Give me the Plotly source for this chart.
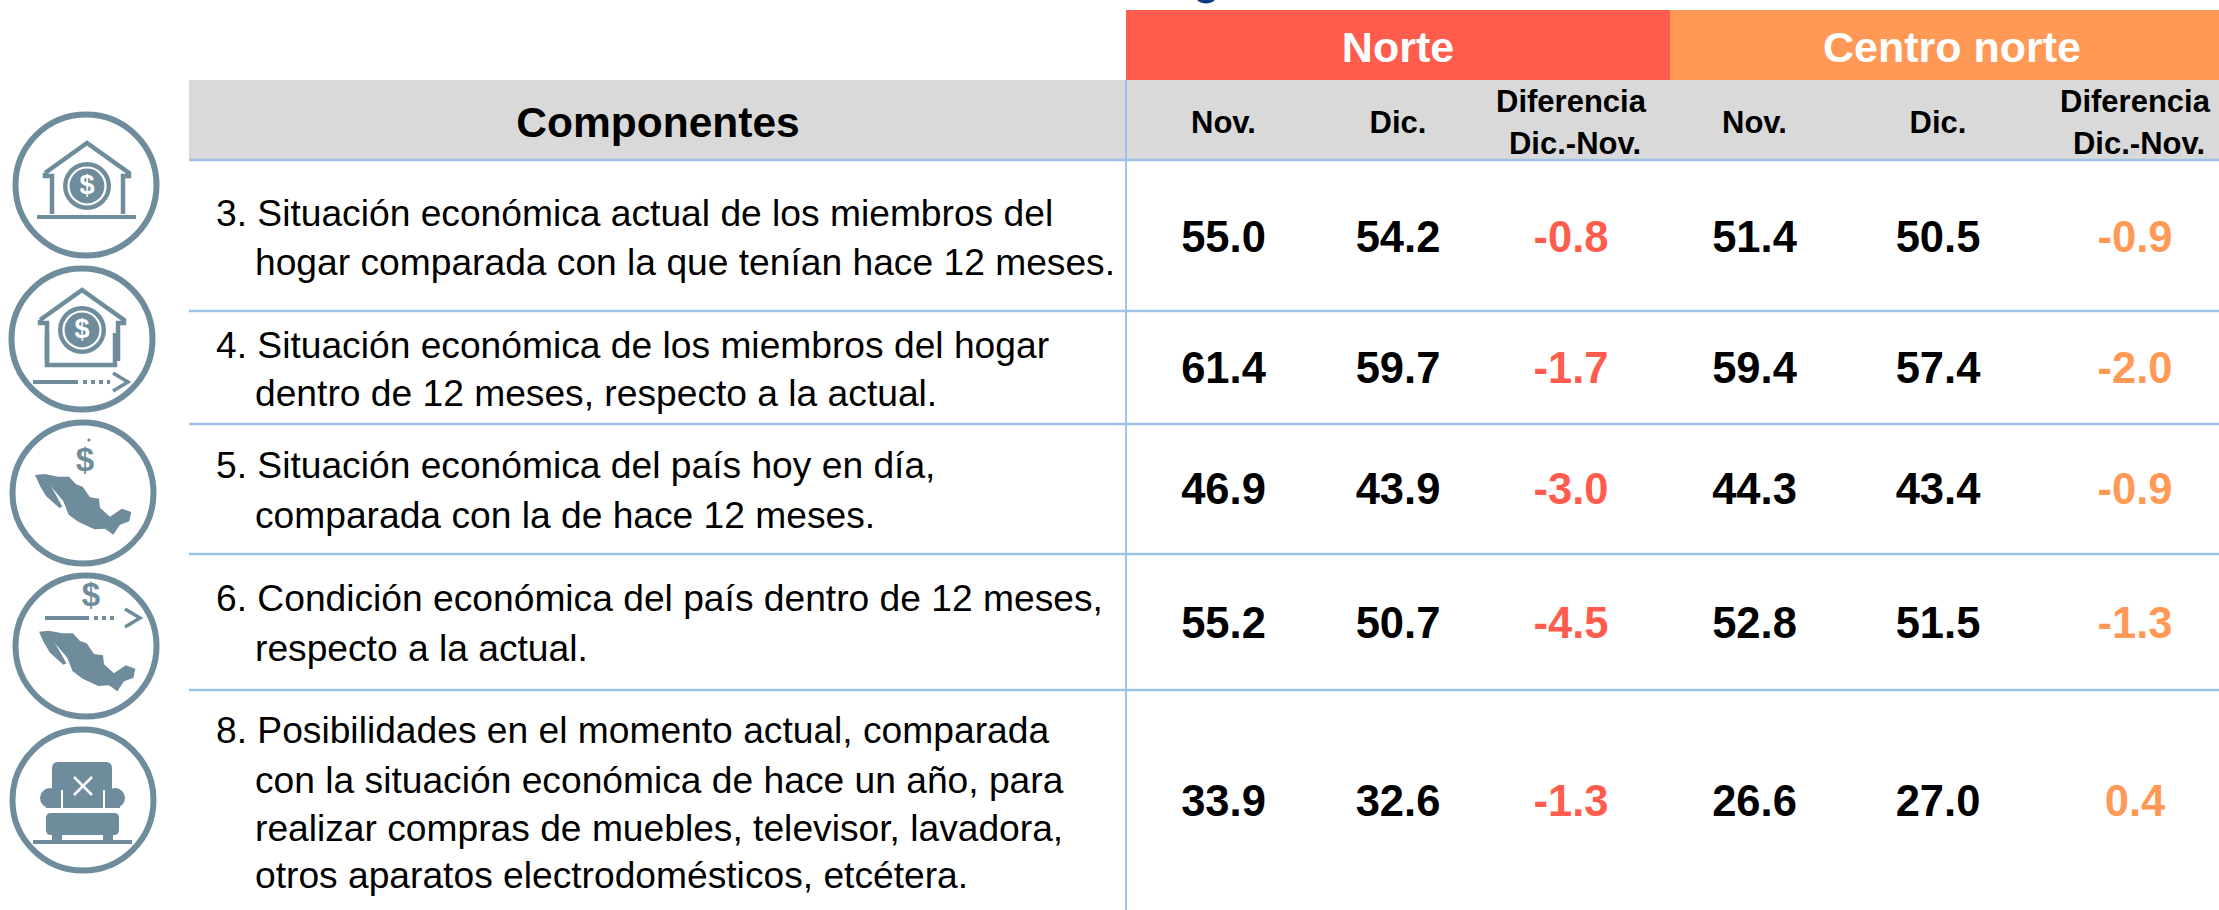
import plotly.graph_objects as go

# ---- data ----
columns = ["Nov.", "Dic.", "Diferencia<br>Dic.-Nov.", "Nov.", "Dic.", "Diferencia<br>Dic.-Nov."]
regions = ["Norte", "Centro norte"]
norte_nov = [55.0, 61.4, 46.9, 55.2, 33.9]
norte_dic = [54.2, 59.7, 43.9, 50.7, 32.6]
norte_dif = [-0.8, -1.7, -3.0, -4.5, -1.3]
centro_nov = [51.4, 59.4, 44.3, 52.8, 26.6]
centro_dic = [50.5, 57.4, 43.4, 51.5, 27.0]
centro_dif = [-0.9, -2.0, -0.9, -1.3, 0.4]
componentes = [
    ["3. Situación económica actual de los miembros del", "hogar comparada con la que tenían hace 12 meses."],
    ["4. Situación económica de los miembros del hogar", "dentro de 12 meses, respecto a la actual."],
    ["5. Situación económica del país hoy en día,", "comparada con la de hace 12 meses."],
    ["6. Condición económica del país dentro de 12 meses,", "respecto a la actual."],
    ["8. Posibilidades en el momento actual, comparada", "con la situación económica de hace un año, para",
     "realizar compras de muebles, televisor, lavadora,", "otros aparatos electrodomésticos, etcétera."],
]

# ---- layout constants ----
W, H = 2219, 910
RED, ORANGE, GRAY, LINE, ICON = "#FF5C4D", "#FF9955", "#D9D9D9", "#9DC3E6", "#6F8C9C"
FONT = "Liberation Sans"
DY = 3
col_x = [1223.5, 1398, 1571, 1754.5, 1938, 2135]
row_y = [238, 369, 490, 624, 802]
row_lines = [160, 311, 424, 554, 690]
line_y = [[214, 263], [346, 394], [466, 516], [599, 649], [731, 781, 829, 876]]

fig = go.Figure()
shapes = []


def rect(x0, y0, x1, y1, color):
    shapes.append(dict(type="rect", x0=x0, y0=y0, x1=x1, y1=y1, fillcolor=color, line_width=0, layer="below"))


def rrect(x0, y0, x1, y1, r, color):
    d = (f"M {x0 + r},{y0} L {x1 - r},{y0} Q {x1},{y0} {x1},{y0 + r} L {x1},{y1 - r} Q {x1},{y1} {x1 - r},{y1} "
         f"L {x0 + r},{y1} Q {x0},{y1} {x0},{y1 - r} L {x0},{y0 + r} Q {x0},{y0} {x0 + r},{y0} Z")
    shapes.append(dict(type="path", path=d, fillcolor=color, line_width=0, layer="below"))


def line(x0, y0, x1, y1, color, w, dash="solid"):
    shapes.append(dict(type="line", x0=x0, y0=y0, x1=x1, y1=y1, line=dict(color=color, width=w, dash=dash), layer="below"))


def circle(cx, cy, r, fill="rgba(0,0,0,0)", stroke=None, w=0):
    shapes.append(dict(type="circle", x0=cx - r, y0=cy - r, x1=cx + r, y1=cy + r, fillcolor=fill,
                       line=dict(color=stroke or "rgba(0,0,0,0)", width=w), layer="below"))


def poly(pts, fill=None, stroke=None, w=0, close=True):
    d = "M " + " L ".join(f"{x},{y}" for x, y in pts) + (" Z" if close else "")
    shapes.append(dict(type="path", path=d, fillcolor=fill or "rgba(0,0,0,0)",
                       line=dict(color=stroke or "rgba(0,0,0,0)", width=w), layer="below"))


# header bands
rect(1126, 10, 1670, 80, RED)
rect(1670, 10, W, 80, ORANGE)
rect(189, 80, W, 160, GRAY)
for y in row_lines:
    line(189, y, W, y, LINE, 2.5)
line(1126, 80, 1126, H, LINE, 2)
# clipped descender of the title above the table
shapes.append(dict(type="circle", x0=1197, y0=-6, x1=1215, y1=3.5, fillcolor="#0B3C7F", line_width=0, layer="below"))


# ---- icons ----
def coin(cx, cy):
    circle(cx, cy, 24, fill=ICON)
    circle(cx, cy, 18.5, stroke="white", w=2.2)


def house_open(cx, top):
    poly([(cx - 42, top + 33), (cx, top + 3), (cx + 42, top + 33), (cx + 42, top + 36), (cx + 36, top + 36),
          (cx + 36, top + 74)], stroke=ICON, w=4.5, close=False)
    poly([(cx - 42, top + 33), (cx - 42, top + 36), (cx - 35, top + 36), (cx - 35, top + 74)], stroke=ICON, w=4.5, close=False)


def mexico(dx, dy):
    main = [(135, 222), (175, 230), (207, 230), (228, 253), (248, 260), (270, 292), (297, 296), (300, 323), (330, 350),
            (365, 326), (394, 336), (388, 364), (360, 374), (340, 404), (315, 386), (283, 388), (236, 366), (206, 344),
            (190, 304), (165, 274), (145, 252)]
    baja = [(105, 225), (135, 222), (148, 252), (168, 285), (187, 320), (178, 324), (138, 288), (120, 258)]
    poly([(x / 3 + dx, 400 + y / 3 + dy) for x, y in main], fill=ICON)
    poly([(x / 3 + dx, 400 + y / 3 + dy) for x, y in baja], fill=ICON)


def arrow(x0, x1, x2, tip, y):
    line(x0, y, x1, y, ICON, 4)
    line(x1 + 5, y, x2, y, ICON, 4, dash="dot")
    poly([(tip - 15, y - 9), (tip, y), (tip - 15, y + 9)], stroke=ICON, w=3.5, close=False)


for cx, cy in [(86, 185), (82, 339), (83, 493), (86, 646), (83, 800)]:
    circle(cx, cy, 70.5, fill="white", stroke=ICON, w=6)

# icon 1
house_open(87, 140)
line(37, 217, 136, 217, ICON, 4)
coin(87, 186)
# icon 2
house_open(82, 287)
poly([(47, 333), (47, 365), (115, 365), (115, 333)], stroke=ICON, w=4.5, close=False)
coin(82, 330)
arrow(33, 78, 110, 128, 382)
# icon 3
mexico(0, 0)
circle(89, 440, 1.6, fill=ICON)
# icon 4
mexico(4, 156.7)
arrow(45, 89, 118, 140, 618)
# icon 5 – armchair
rrect(52, 762, 112, 808, 6, ICON)
circle(50, 798, 10, fill=ICON)
circle(115, 798, 10, fill=ICON)
rect(46, 800, 62, 808, ICON)
rect(104, 800, 120, 808, ICON)
line(62, 790, 62, 809, "white", 2)
line(104, 790, 104, 809, "white", 2)
rrect(46, 813, 119, 835, 5, ICON)
rect(52, 835, 62, 841, ICON)
rect(103, 835, 113, 841, ICON)
line(33, 842, 132, 842, ICON, 4)
line(74, 777, 92, 795, "white", 2.5)
line(92, 777, 74, 795, "white", 2.5)


def text(xs, ys, labels, size, color="black", bold=False, pos="middle center"):
    fig.add_trace(go.Scatter(
        x=xs, y=[y + DY for y in ys], text=labels, mode="text", textposition=pos, hoverinfo="skip", showlegend=False,
        cliponaxis=False,
        textfont=dict(family=FONT, size=size, color=color, weight="bold" if bold else "normal"),
    ))


# icon dollar signs
text([87, 82], [184, 328], ["$", "$"], 27, "white", True)
text([85, 91], [460, 595], ["$", "$"], 33, ICON, True)

# headers
text([1398, 1952], [48, 48], regions, 43, "white", True)
text([658], [123], ["Componentes"], 42.5, "black", True)
for x, lab in zip(col_x, columns):
    if "<br>" in lab:
        a, b = lab.split("<br>")
        text([x, x + 4], [101, 143], [a, b], 31, "black", True)
    else:
        text([x], [122], [lab], 31, "black", True)

# component descriptions
for lines, ys in zip(componentes, line_y):
    for i, (s, y) in enumerate(zip(lines, ys)):
        text([216 if i == 0 else 255], [y], [s], 37.2, pos="middle right")

# values
series = [norte_nov, norte_dic, norte_dif, centro_nov, centro_dic, centro_dif]
colors = ["black", "black", RED, "black", "black", ORANGE]
for x, vals, c in zip(col_x, series, colors):
    text([x] * len(vals), row_y, [f"{v:.1f}" for v in vals], 43.5, c, True)

fig.update_layout(
    width=W, height=H, margin=dict(l=0, r=0, t=0, b=0), paper_bgcolor="white", plot_bgcolor="white",
    xaxis=dict(range=[0, W], visible=False, fixedrange=True),
    yaxis=dict(range=[H, 0], visible=False, fixedrange=True),
    shapes=shapes, showlegend=False,
)
fig.write_html("out.html", config={"displayModeBar": False},
               post_script="document.body.style.margin='0';document.documentElement.style.overflow='hidden';")
